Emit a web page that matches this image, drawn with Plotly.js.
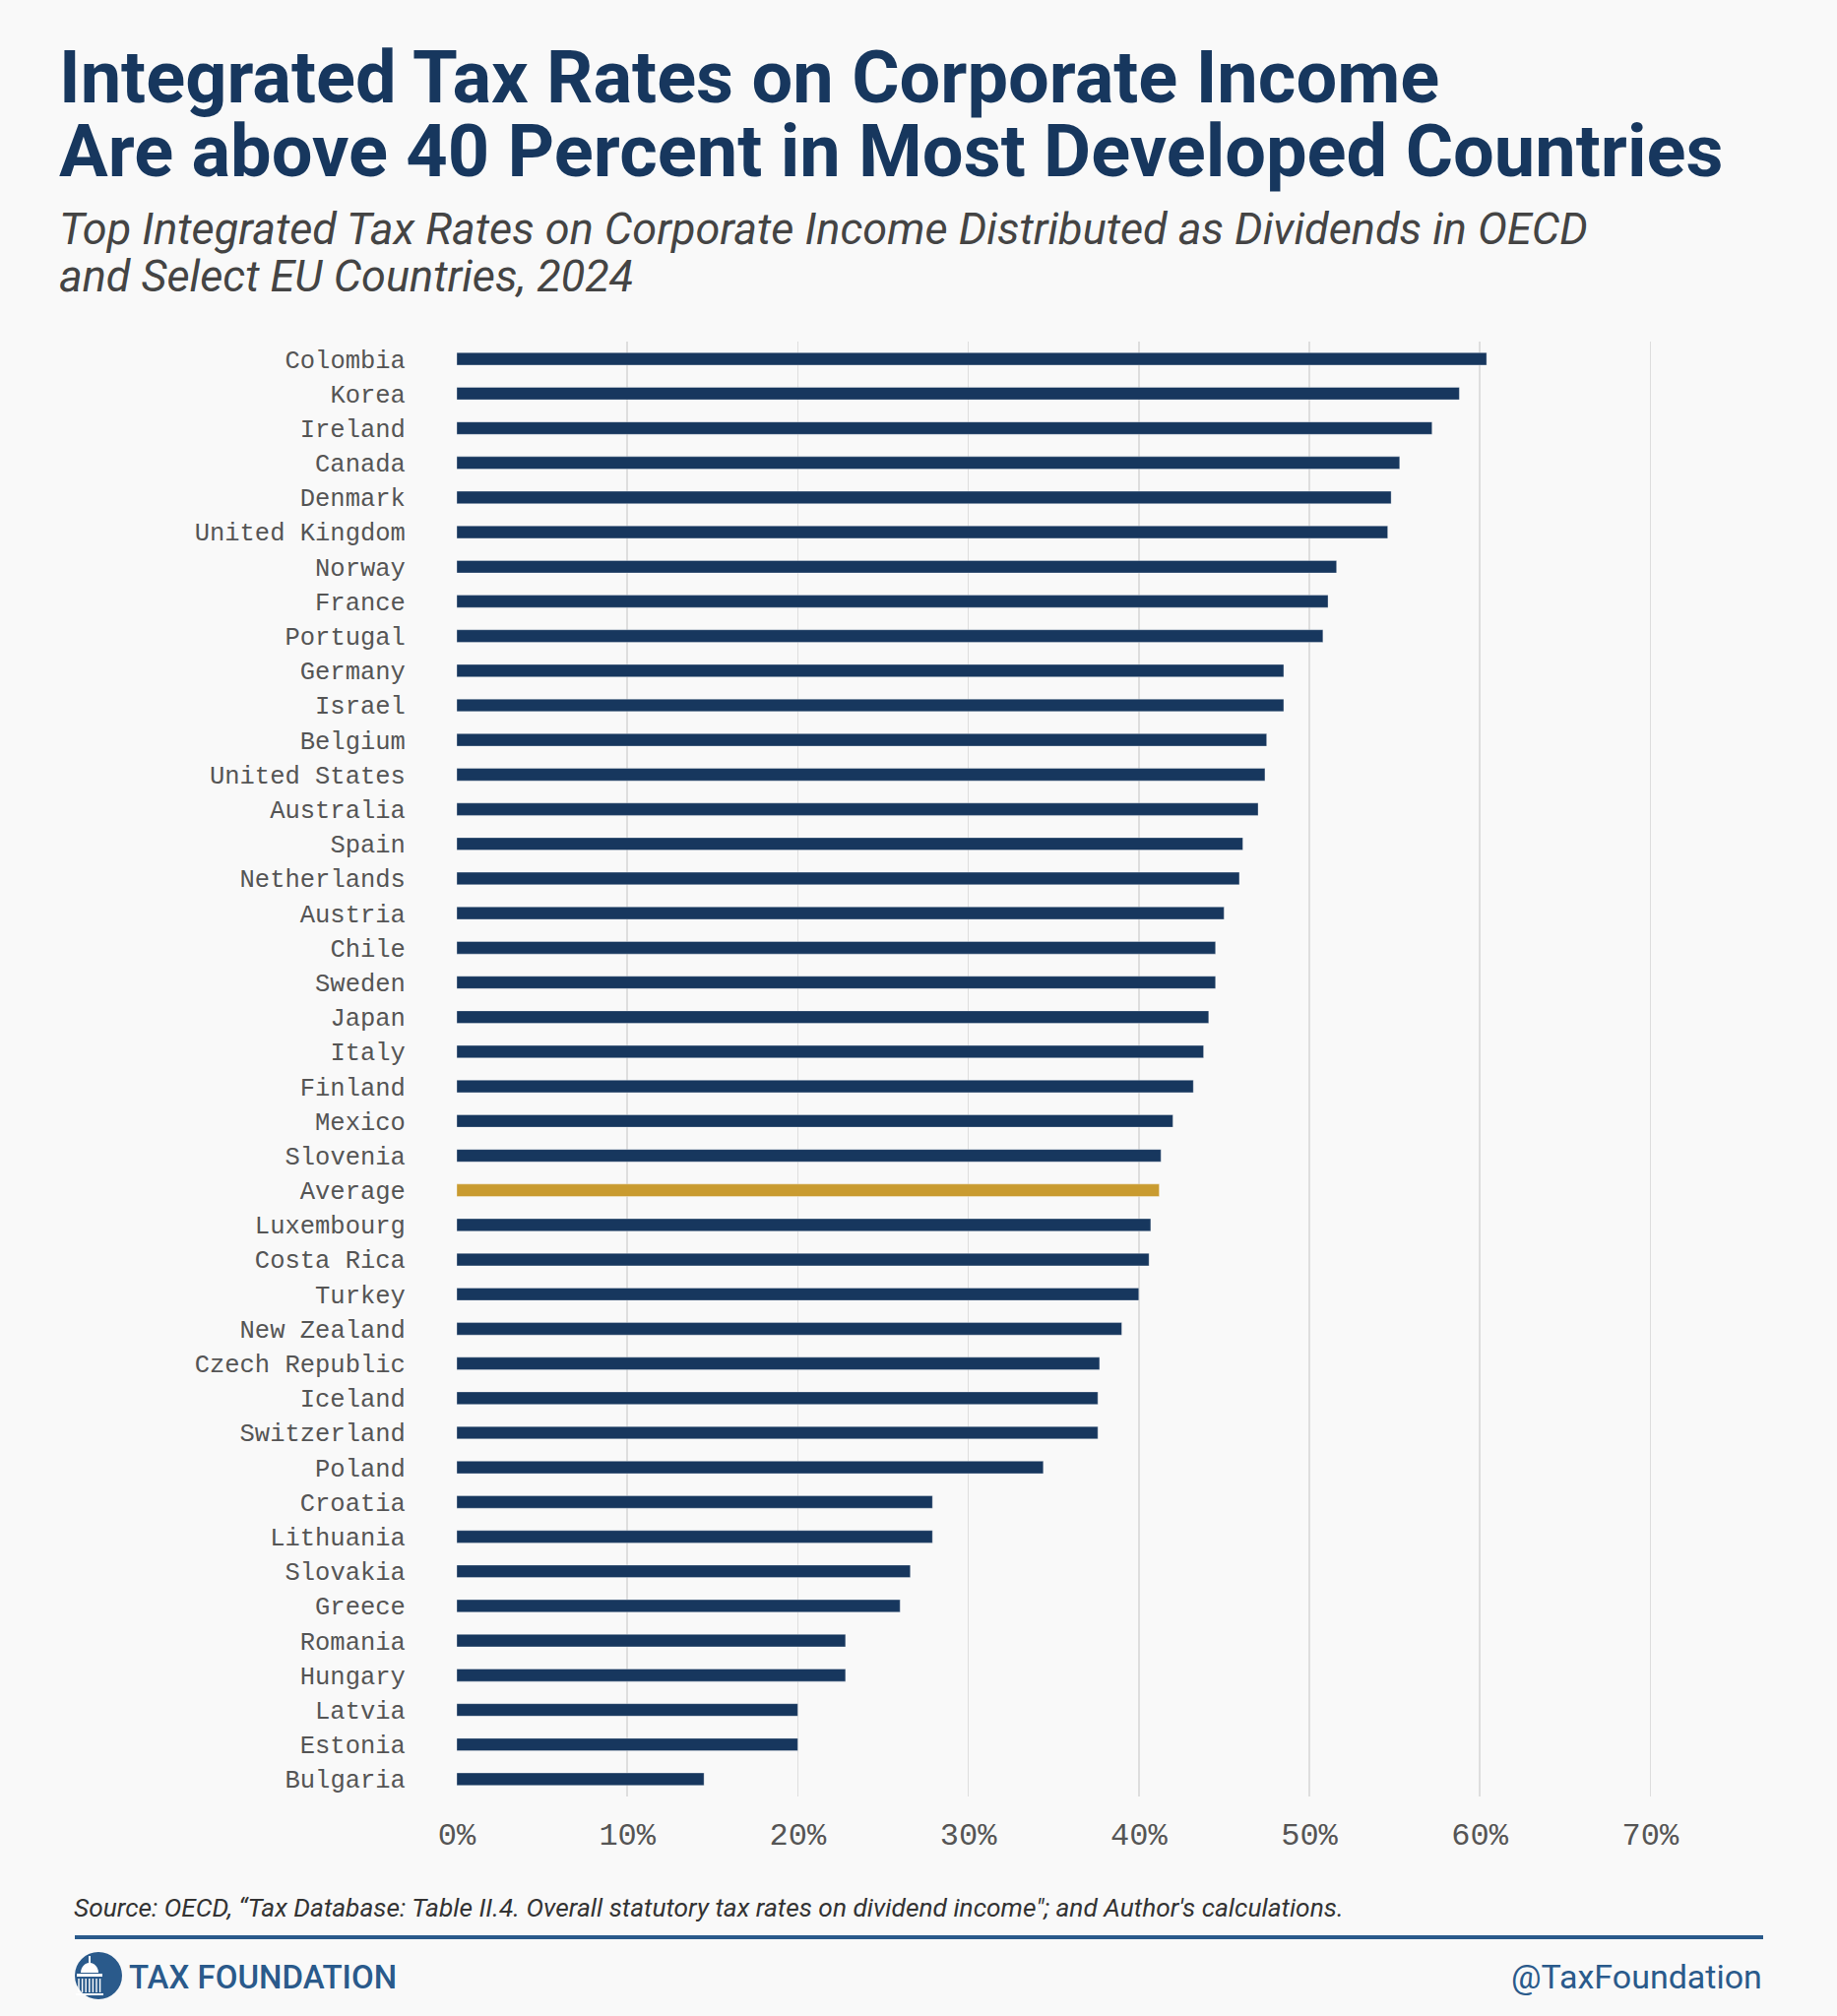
<!DOCTYPE html>
<html>
<head>
<meta charset="utf-8">
<script src="https://cdn.plot.ly/plotly-3.0.1.min.js"></script>
<style>
  body { margin: 0; background: #f9f9f9; }
  #chart { width: 1866px; height: 2048px; }
</style>
</head>
<body>
<div id="chart"></div>
<script>
// countries, top to bottom
var countries = ['Colombia', 'Korea', 'Ireland', 'Canada', 'Denmark', 'United Kingdom',
    'Norway', 'France', 'Portugal', 'Germany', 'Israel', 'Belgium', 'United States',
    'Australia', 'Spain', 'Netherlands', 'Austria', 'Chile', 'Sweden', 'Japan', 'Italy',
    'Finland', 'Mexico', 'Slovenia', 'Average', 'Luxembourg', 'Costa Rica', 'Turkey',
    'New Zealand', 'Czech Republic', 'Iceland', 'Switzerland', 'Poland', 'Croatia',
    'Lithuania', 'Slovakia', 'Greece', 'Romania', 'Hungary', 'Latvia', 'Estonia', 'Bulgaria'];

// top integrated rate, percent
var rates = [60.4, 58.8, 57.2, 55.3, 54.8, 54.6,
    51.6, 51.1, 50.8, 48.5, 48.5, 47.5, 47.4,
    47.0, 46.1, 45.9, 45.0, 44.5, 44.5, 44.1, 43.8,
    43.2, 42.0, 41.3, 41.2, 40.7, 40.6, 40.0,
    39.0, 37.7, 37.6, 37.6, 34.4, 27.9,
    27.9, 26.6, 26.0, 22.8, 22.8, 20.0, 20.0, 14.5];

var tickVals = [0, 10, 20, 30, 40, 50, 60, 70];
var tickText = ['0%', '10%', '20%', '30%', '40%', '50%', '60%', '70%'];

var navy = '#17375e';
var gold = '#c99b30';
var blue = '#2a5a8b';

var barColors = countries.map(function (c) {
    return c === 'Average' ? gold : navy;
});

// page geometry, in pixels
var W = 1866, H = 2048;
var mL = 464, mR = 155, mT = 347, mB = 223;
var plotW = W - mL - mR;
var plotH = H - mT - mB;

function px(x) { return (x - mL) / plotW; }
function py(y) { return 1 - (y - mT) / plotH; }

function note(text, x, y, size, opts) {
    opts = opts || {};
    return {
        text: text,
        xref: 'paper', yref: 'paper',
        x: px(x), y: py(y),
        xanchor: opts.anchor || 'left',
        yanchor: 'middle',
        showarrow: false,
        font: {
            family: opts.family || 'Roboto, sans-serif',
            size: size,
            color: opts.color || '#333333',
            weight: opts.weight || 400,
            style: opts.style || 'normal'
        }
    };
}

var bars = {
    type: 'bar',
    orientation: 'h',
    y: countries,
    x: rates,
    width: 0.36,
    marker: {
        color: barColors,
        line: {color: 'rgba(255,255,255,0.35)', width: 1}
    },
    hoverinfo: 'skip'
};

var annotations = [
    note('Integrated Tax Rates on Corporate Income', 58, 78, 74, {color: navy, weight: 700}),
    note('Are above 40 Percent in Most Developed Countries', 58, 153, 74, {color: navy, weight: 700}),
    note('Top Integrated Tax Rates on Corporate Income Distributed as Dividends in OECD', 58, 233, 45, {color: '#444444', style: 'italic'}),
    note('and Select EU Countries, 2024', 58, 280, 45, {color: '#444444', style: 'italic'}),
    note('Source: OECD, \u201cTax Database: Table II.4. Overall statutory tax rates on dividend income"; and Author\'s calculations.', 73, 1938, 26.3, {color: '#333333', style: 'italic'}),
    note('TAX FOUNDATION', 129, 2008, 33, {color: blue, weight: 500}),
    note('@TaxFoundation', 1792, 2008, 34, {color: blue, anchor: 'right'})
];

// logo: circle with a small white capitol
var cx = 100, cy = 2007, r = 24;
function pathOf(pts) {
    return pts.map(function (p, i) {
        return (i ? 'L' : 'M') + px(p[0]) + ',' + py(p[1]);
    }).join(' ') + ' Z';
}
var domePts = [];
for (var a = 0; a <= 180; a += 15) {
    var t = a * Math.PI / 180;
    domePts.push([91 + 9 * Math.cos(t), 2004 - 10 * Math.sin(t)]);
}

var shapes = [
    {type: 'line', xref: 'paper', yref: 'paper', x0: px(76), x1: px(1791), y0: py(1968), y1: py(1968),
     line: {color: blue, width: 4}},
    {type: 'circle', xref: 'paper', yref: 'paper', x0: px(cx - r), x1: px(cx + r), y0: py(cy - r), y1: py(cy + r),
     fillcolor: blue, line: {width: 0}},
    {type: 'path', xref: 'paper', yref: 'paper', path: pathOf(domePts), fillcolor: '#ffffff', line: {width: 0}},
    {type: 'line', xref: 'paper', yref: 'paper', x0: px(91), x1: px(91), y0: py(1987), y1: py(1995),
     line: {color: '#ffffff', width: 2}},
    {type: 'path', xref: 'paper', yref: 'paper',
     path: pathOf([[78, 2005], [104, 2005], [104, 2008], [78, 2008]]), fillcolor: '#ffffff', line: {width: 0}}
];
for (var k = 0; k < 7; k++) {
    var xc = 80 + k * 3.6;
    shapes.push({type: 'line', xref: 'paper', yref: 'paper', x0: px(xc), x1: px(xc), y0: py(2010), y1: py(2024),
                 line: {color: '#ffffff', width: 1.4}});
}
shapes.push({type: 'path', xref: 'paper', yref: 'paper',
             path: pathOf([[77, 2025], [105, 2025], [105, 2027], [77, 2027]]), fillcolor: '#ffffff', line: {width: 0}});

var layout = {
    width: W,
    height: H,
    margin: {l: mL, r: mR, t: mT, b: mB, pad: 0},
    paper_bgcolor: '#f9f9f9',
    plot_bgcolor: '#f9f9f9',
    showlegend: false,
    bargap: 0,
    xaxis: {
        range: [0, 72],
        tickvals: tickVals,
        ticktext: tickText,
        showgrid: true,
        gridcolor: '#dedede',
        gridwidth: 1.5,
        zeroline: false,
        showline: false,
        ticks: 'outside',
        ticklen: 10,
        tickcolor: 'rgba(0,0,0,0)',
        tickfont: {family: '"Liberation Mono", monospace', size: 32, color: '#555555'},
        fixedrange: true
    },
    yaxis: {
        type: 'category',
        autorange: 'reversed',
        showgrid: false,
        zeroline: false,
        showline: false,
        ticks: 'outside',
        ticklen: 46,
        tickcolor: 'rgba(0,0,0,0)',
        tickfont: {family: '"Liberation Mono", monospace', size: 25.5, color: '#555555'},
        fixedrange: true
    },
    annotations: annotations,
    shapes: shapes
};

Plotly.newPlot('chart', [bars], layout, {displayModeBar: false, staticPlot: true});
</script>
</body>
</html>
